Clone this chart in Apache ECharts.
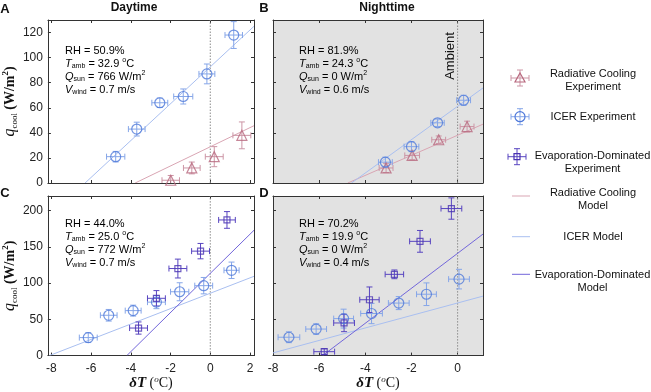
<!DOCTYPE html>
<html><head><meta charset="utf-8">
<script src="https://cdn.jsdelivr.net/npm/echarts@6/dist/echarts.min.js"></script>
<style>html,body{margin:0;padding:0;background:#fff}#c{width:651px;height:392px}</style>
</head><body><div id="c"></div><script>
// ---------- data ----------
const xTicksAC = [-8, -6, -4, -2, 0, 2];
const xTicksBD = [-8, -6, -4, -2, 0];
const yTicksAB = [0, 20, 40, 60, 80, 100, 120];
const yTicksCD = [0, 50, 100, 150, 200];

// [dT, q, xErr, yErr]
const A_icerExp = [[-4.76,21,0.46,4.2],[-3.70,43,0.42,5.5],[-2.54,64,0.40,3.8],[-1.36,69,0.48,6],[-0.17,87,0.40,7.9],[1.18,118,0.44,10.7]];
const A_rcExp   = [[-1.99,2.2,0.44,3.8],[-0.93,12,0.42,4.7],[0.20,21,0.45,8],[1.59,38,0.45,10.7]];
const A_icerModel = [[-6.3,0],[2.2,125]];
const A_rcModel   = [[-3.78,0],[2.2,45.7]];

const B_icerExp = [[-3.13,16.6,0.30,4],[-2.00,29,0.32,4],[-0.87,48,0.29,3],[0.26,66,0.30,4]];
const B_rcExp   = [[-3.10,12,0.30,3.7],[-1.97,22,0.32,3.5],[-0.82,34.5,0.30,3],[0.41,45,0.30,4.3]];
const B_icerModel = [[-4.6,0],[1.1,75.8]];
const B_rcModel   = [[-4.76,0],[1.1,46.9]];

const C_icerExp = [[-6.14,24.8,0.45,6.8],[-5.11,55.6,0.42,8],[-3.88,62,0.40,7.5],[-2.71,73.7,0.45,9],[-1.54,88,0.46,12.4],[-0.33,96.4,0.45,11.3],[1.07,117.6,0.38,11.3]];
const C_evapExp = [[-3.61,38,0.45,8.4],[-2.71,79,0.45,10.6],[-1.63,120,0.45,13],[-0.49,144,0.45,10.6],[0.84,187,0.42,11.5]];
const C_icerModel = [[-8.1,0],[2.2,109.3]];
const C_evapModel = [[-4.2,0],[2.2,172.8]];

const D_icerExp = [[-7.31,25.3,0.47,7.5],[-6.13,36.6,0.45,7.3],[-4.94,51,0.43,13],[-3.73,58,0.47,14],[-2.55,72.4,0.45,9],[-1.35,84.6,0.43,15.6],[0.06,105.4,0.45,13.5]];
const D_evapExp = [[-5.78,5.4,0.45,4],[-4.92,45,0.45,12],[-3.82,77,0.42,17.6],[-2.74,112,0.40,6],[-1.63,157.5,0.45,15],[-0.27,202.7,0.45,14.7]];
const D_icerModel = [[-8,3.7],[1.1,82]];
const D_evapModel = [[-5.85,0],[1.1,167.5]];

// ---------- style ----------
const SANS = "'Liberation Sans', Arial, Helvetica, sans-serif";
const SERIF = "'Liberation Serif', 'DejaVu Serif', serif";
const AX = '#333333';
const COL = {
  icer: '#4f79da', icerBar: '#86a6e8', icerModel: '#a9bff0',
  rc: '#b8687e', rcBar: '#cc95a5', rcModel: '#d9a5b3',
  evap: '#4a33b3', evapBar: '#5845c0', evapModel: '#7266da'
};
const GRAY = '#e2e2e2';

const grids = [
  {left:43, top:20, width:211, height:163},
  {left:273, top:20, width:210, height:163, show:true, backgroundColor:GRAY, borderWidth:0},
  {left:43, top:196, width:211, height:162},
  {left:273, top:196, width:210, height:162, show:true, backgroundColor:GRAY, borderWidth:0}
];
const xr = [[-8.17,2.2],[-8,1.1],[-8.17,2.2],[-8,1.1]];
const yr = [[0,130],[0,130],[0,220],[0,220]];
const xt = [xTicksAC, xTicksBD, xTicksAC, xTicksBD];
const yt = [yTicksAB, yTicksAB, yTicksCD, yTicksCD];
const xLab = [false,false,true,true];
const yLab = [true,false,true,false];

const yName = '{q|q}{s|cool} {p|(W/m}{u|2}{p|)}';
const yRich = {
  q:{fontFamily:SERIF, fontStyle:'italic', fontSize:16, color:'#111'},
  s:{fontFamily:SERIF, fontSize:9, color:'#111', verticalAlign:'bottom', lineHeight:18},
  p:{fontFamily:SERIF, fontWeight:'bold', fontSize:14, color:'#111'},
  u:{fontFamily:SERIF, fontWeight:'bold', fontSize:9, color:'#111', verticalAlign:'top', lineHeight:18}
};
const xName = '{d|δT} {p|(}{u|o}{p|C)}';
const xRich = {
  d:{fontFamily:SERIF, fontStyle:'italic', fontWeight:'bold', fontSize:15, color:'#111'},
  p:{fontFamily:SERIF, fontSize:14, color:'#111'},
  u:{fontFamily:SERIF, fontStyle:'italic', fontSize:9, color:'#111', verticalAlign:'top', lineHeight:16}
};

const xAxis = [], yAxis = [];
for (let g = 0; g < 4; g++) {
  const tick = (vals) => ({show:true, inside:true, length:3, customValues:vals, lineStyle:{color:AX, width:1}});
  xAxis.push({type:'value', gridIndex:g, min:xr[g][0], max:xr[g][1], position:'bottom',
    axisLine:{show:true, onZero:false, lineStyle:{color:AX, width:1}},
    axisTick:tick(xt[g]),
    axisLabel:{show:xLab[g], customValues:xt[g], margin:7, fontSize:12, color:'#222', fontFamily:SANS},
    splitLine:{show:false},
    name: xLab[g] ? xName : '', nameLocation:'middle', nameGap:17, nameTextStyle:{rich:xRich}});
  xAxis.push({type:'value', gridIndex:g, min:xr[g][0], max:xr[g][1], position:'top',
    axisLine:{show:true, onZero:false, lineStyle:{color:AX, width:1}},
    axisTick:tick(xt[g]), axisLabel:{show:false}, splitLine:{show:false}});
  yAxis.push({type:'value', gridIndex:g, min:yr[g][0], max:yr[g][1], position:'left',
    axisLine:{show:true, onZero:false, lineStyle:{color:AX, width:1}},
    axisTick:tick(yt[g]),
    axisLabel:{show:yLab[g], customValues:yt[g], margin:5, fontSize:12, color:'#222', fontFamily:SANS},
    splitLine:{show:false},
    name: yLab[g] ? yName : '', nameLocation:'middle', nameGap:23, nameTextStyle:{rich:yRich}});
  yAxis.push({type:'value', gridIndex:g, min:yr[g][0], max:yr[g][1], position:'right',
    axisLine:{show:true, onZero:false, lineStyle:{color:AX, width:1}},
    axisTick:tick(yt[g]), axisLabel:{show:false}, splitLine:{show:false}});
}

function errRender(color) {
  return function (params, api) {
    const x = api.value(0), y = api.value(1), ex = api.value(2), ey = api.value(3);
    const p = api.coord([x, y]), l = api.coord([x - ex, y]), r = api.coord([x + ex, y]);
    const t = api.coord([x, y + ey]), b = api.coord([x, y - ey]);
    const cap = 3, st = {stroke: color, lineWidth: 1};
    const L = (x1,y1,x2,y2) => ({type:'line', shape:{x1,y1,x2,y2}, style:st});
    return {type:'group', children:[
      L(l[0],p[1],r[0],p[1]), L(l[0],p[1]-cap,l[0],p[1]+cap), L(r[0],p[1]-cap,r[0],p[1]+cap),
      L(p[0],t[1],p[0],b[1]), L(p[0]-cap,t[1],p[0]+cap,t[1]), L(p[0]-cap,b[1],p[0]+cap,b[1])
    ]};
  };
}

const series = [];
function addExp(g, data, kind) {
  const c = COL[kind], cb = COL[kind + 'Bar'];
  series.push({type:'custom', xAxisIndex:2*g, yAxisIndex:2*g, data, clip:true, z:3,
    encode:{x:0, y:1}, renderItem: errRender(cb), silent:true});
  const sym = kind === 'icer' ? 'circle' : (kind === 'rc' ? 'triangle' : 'rect');
  const size = kind === 'evap' ? 6 : 10;
  series.push({type:'scatter', xAxisIndex:2*g, yAxisIndex:2*g, data: data.map(d => [d[0], d[1]]),
    symbol:sym, symbolSize:size, z:4, silent:true,
    itemStyle:{color:'rgba(0,0,0,0)', borderColor:c, borderWidth:1.2}});
}
// model line: custom polyline through the model's points (via axis scales)
function addModel(g, data, kind) {
  const stroke = COL[kind + 'Model'];
  series.push({type:'custom', xAxisIndex:2*g, yAxisIndex:2*g, data, clip:true, z:2, silent:true,
    encode:{x:0, y:1},
    renderItem: function (params, api) {
      if (params.dataIndex !== 0) return null;
      const pts = data.map(d => api.coord(d));
      return {type:'polyline', shape:{points:pts}, style:{stroke, lineWidth:1, fill:null}};
    }});
}
function addZero(g, ymax) {
  series.push({type:'custom', xAxisIndex:2*g, yAxisIndex:2*g, data:[[0, 0, ymax]], clip:true, z:1, silent:true,
    encode:{x:0, y:1},
    renderItem: function (params, api) {
      const a = api.coord([api.value(0), api.value(1)]), b = api.coord([api.value(0), api.value(2)]);
      return {type:'line', shape:{x1:a[0], y1:a[1], x2:b[0], y2:b[1]},
        style:{stroke:'#8c8c8c', lineWidth:1, lineDash:[1.5, 1.5]}};
    }});
}
addZero(0, 130); addModel(0, A_rcModel, 'rc'); addModel(0, A_icerModel, 'icer');
addExp(0, A_rcExp, 'rc'); addExp(0, A_icerExp, 'icer');
addZero(1, 130); addModel(1, B_rcModel, 'rc'); addModel(1, B_icerModel, 'icer');
addExp(1, B_rcExp, 'rc'); addExp(1, B_icerExp, 'icer');
addZero(2, 220); addModel(2, C_icerModel, 'icer'); addModel(2, C_evapModel, 'evap');
addExp(2, C_icerExp, 'icer'); addExp(2, C_evapExp, 'evap');
addZero(3, 220); addModel(3, D_icerModel, 'icer'); addModel(3, D_evapModel, 'evap');
addExp(3, D_icerExp, 'icer'); addExp(3, D_evapExp, 'evap');

// ---------- text / legend ----------
const annRich = {
  n:{fontFamily:SANS, fontSize:11, color:'#111', lineHeight:13},
  i:{fontFamily:SANS, fontSize:11, fontStyle:'italic', color:'#111', lineHeight:13},
  sub:{fontFamily:SANS, fontSize:7, color:'#111', verticalAlign:'bottom', lineHeight:13},
  sup:{fontFamily:SANS, fontSize:7, color:'#111', verticalAlign:'top', lineHeight:13}
};
function ann(x, y, rh, t, q, v) {
  return {type:'text', x, y, z:10, style:{
    text:`{n|RH = ${rh}}\n{i|T}{sub|amb}{n| = ${t} }{sup|o}{n|C}\n{i|Q}{sub|sun}{n| = ${q} W/m}{sup|2}\n{i|V}{sub|wind}{n| = ${v} m/s}`,
    rich:annRich, lineHeight:13}};
}
function txt(x, y, s, font, extra) {
  return Object.assign({type:'text', x, y, z:10, style:Object.assign({text:s, font, fill:'#111',
    align:'center', verticalAlign:'middle', lineHeight:13}, extra||{})});
}
const LF = `11px ${SANS}`;
function legendExp(cx, cy, kind) {
  const c = COL[kind], cb = COL[kind + 'Bar'];
  const st = {stroke:cb, lineWidth:1};
  const L = (x1,y1,x2,y2) => ({type:'line', shape:{x1,y1,x2,y2}, style:st});
  const ch = [L(cx-9,cy,cx+9,cy), L(cx-9,cy-3,cx-9,cy+3), L(cx+9,cy-3,cx+9,cy+3),
              L(cx,cy-8,cx,cy+8), L(cx-3,cy-8,cx+3,cy-8), L(cx-3,cy+8,cx+3,cy+8)];
  const ms = {fill:'none', stroke:c, lineWidth:1.2};
  if (kind === 'icer') ch.push({type:'circle', shape:{cx, cy, r:5}, style:ms});
  else if (kind === 'rc') ch.push({type:'polygon', shape:{points:[[cx,cy-5],[cx+5,cy+4],[cx-5,cy+4]]}, style:ms});
  else ch.push({type:'rect', shape:{x:cx-3,y:cy-3,width:6,height:6}, style:ms});
  return {type:'group', z:10, children:ch};
}
function legendLine(y, kind) {
  return {type:'line', z:10, shape:{x1:512,y1:y,x2:530,y2:y}, style:{stroke:COL[kind+'Model'], lineWidth:1}};
}

const graphic = [
  txt(5, 9, 'A', `bold 13px ${SANS}`),
  txt(264, 8, 'B', `bold 13px ${SANS}`),
  txt(5, 193, 'C', `bold 13px ${SANS}`),
  txt(264, 193, 'D', `bold 13px ${SANS}`),
  txt(134, 8, 'Daytime', `bold 12px ${SANS}`),
  txt(387, 8, 'Nighttime', `bold 12px ${SANS}`),
  ann(65, 44, '50.9%', '32.9', '766', '0.7'),
  ann(299, 44, '81.9%', '24.3', '0', '0.6'),
  ann(65, 217, '44.0%', '25.0', '772', '0.7'),
  ann(299, 217, '70.2%', '19.9', '0', '0.4'),
  Object.assign(txt(450, 56, 'Ambient', `13px ${SANS}`), {rotation: Math.PI/2}),
  legendExp(520, 78, 'rc'),
  txt(593, 80.5, 'Radiative Cooling\nExperiment', LF),
  legendExp(520, 116.7, 'icer'),
  txt(593, 116.7, 'ICER Experiment', LF),
  legendExp(517, 156.7, 'evap'),
  txt(592.5, 162.5, 'Evaporation-Dominated\nExperiment', LF),
  legendLine(196, 'rc'),
  txt(593, 199, 'Radiative Cooling\nModel', LF),
  legendLine(236.7, 'icer'),
  txt(593, 236.7, 'ICER Model', LF),
  legendLine(274.3, 'evap'),
  txt(592.5, 281, 'Evaporation-Dominated\nModel', LF)
];

const chart = echarts.init(document.getElementById('c'), null, {renderer:'canvas'});
chart.setOption({animation:false, backgroundColor:'#fff', grid:grids, xAxis, yAxis, series, graphic});
</script></body></html>
